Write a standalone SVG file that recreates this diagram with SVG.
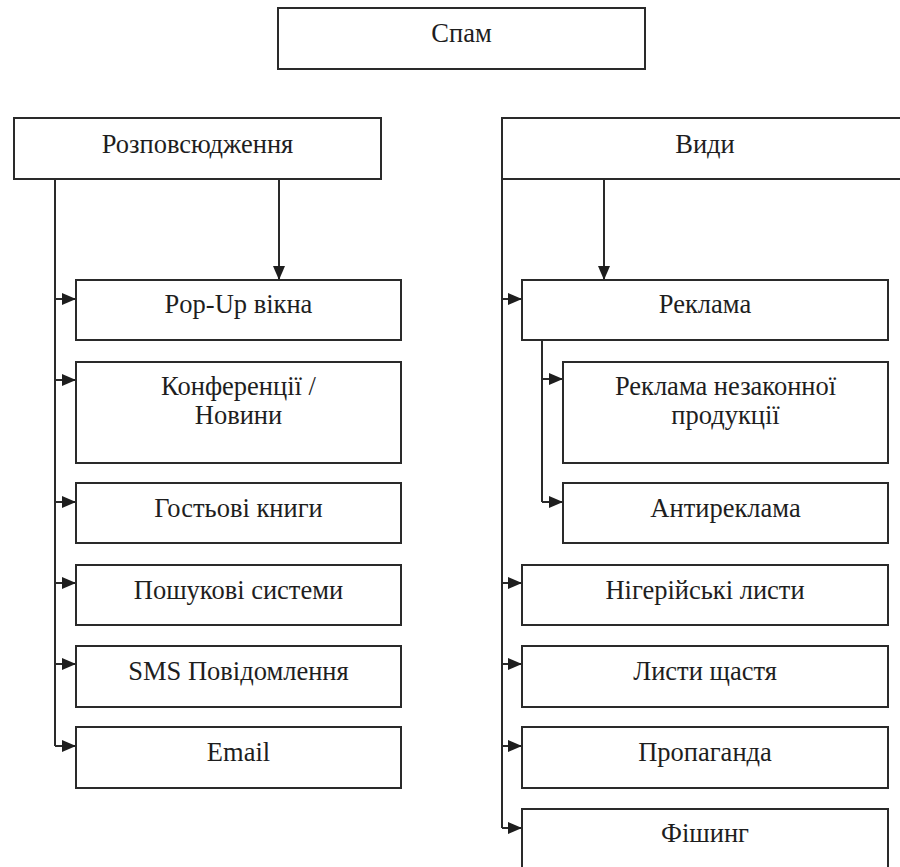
<svg xmlns="http://www.w3.org/2000/svg" width="900" height="867" viewBox="0 0 900 867">
<style>
.box{fill:#fff;stroke:#2a2a2a;stroke-width:2}
.lbl{font-family:"Liberation Serif","Times New Roman",serif;font-size:26.5px;fill:#1e1e1e;text-anchor:middle}
.ln{fill:none;stroke:#2a2a2a;stroke-width:2}
.ar{fill:none;stroke:#2a2a2a;stroke-width:2;marker-end:url(#ah)}
</style>
<defs>
<marker id="ah" markerUnits="userSpaceOnUse" markerWidth="14" markerHeight="12" refX="14" refY="6" orient="auto">
<path d="M0,0 L14,6 L0,12 Z" fill="#1e1e1e"/>
</marker>
</defs>
<rect width="900" height="867" fill="#fff"/>
<g id="connectors">
<path class="ln" d="M55,179 V746"/>
<path class="ln" d="M502,179 V828"/>
<path class="ln" d="M542,340 V502"/>
<path class="ar" d="M279,179 V280"/>
<path class="ar" d="M604,179 V280"/>
<path class="ar" d="M55,299 H76"/>
<path class="ar" d="M55,380 H76"/>
<path class="ar" d="M55,502 H76"/>
<path class="ar" d="M55,583 H76"/>
<path class="ar" d="M55,664 H76"/>
<path class="ar" d="M55,746 H76"/>
<path class="ar" d="M502,299 H522"/>
<path class="ar" d="M542,379 H563"/>
<path class="ar" d="M542,502 H563"/>
<path class="ar" d="M502,583 H522"/>
<path class="ar" d="M502,664 H522"/>
<path class="ar" d="M502,746 H522"/>
<path class="ar" d="M502,828 H522"/>
</g>
<g id="spam"><rect class="box" x="278" y="8" width="367" height="61"/><text class="lbl" x="461.5" y="42">Спам</text></g>
<g id="rozpovsyudzhennya"><rect class="box" x="14" y="118" width="367" height="61"/><text class="lbl" x="197.5" y="153">Розповсюдження</text></g>
<g id="vydy"><rect class="box" x="502" y="118" width="406" height="61"/><text class="lbl" x="705" y="153">Види</text></g>
<g id="popup"><rect class="box" x="76" y="280" width="325" height="60"/><text class="lbl" x="238.5" y="313">Pop-Up вікна</text></g>
<g id="konferentsii"><rect class="box" x="76" y="362" width="325" height="101"/><text class="lbl" x="238.5" y="395">Конференції /</text><text class="lbl" x="238.5" y="424">Новини</text></g>
<g id="gostovi"><rect class="box" x="76" y="483" width="325" height="60"/><text class="lbl" x="238.5" y="517">Гостьові книги</text></g>
<g id="poshukovi"><rect class="box" x="76" y="565" width="325" height="60"/><text class="lbl" x="238.5" y="599">Пошукові системи</text></g>
<g id="sms"><rect class="box" x="76" y="646" width="325" height="61"/><text class="lbl" x="238.5" y="680">SMS Повідомлення</text></g>
<g id="email"><rect class="box" x="76" y="727" width="325" height="61"/><text class="lbl" x="238.5" y="761">Email</text></g>
<g id="reklama"><rect class="box" x="522" y="280" width="366" height="60"/><text class="lbl" x="705" y="313">Реклама</text></g>
<g id="reklama-nezakonnoi"><rect class="box" x="563" y="362" width="325" height="101"/><text class="lbl" x="725.5" y="395">Реклама незаконної</text><text class="lbl" x="725.5" y="424">продукції</text></g>
<g id="antyreklama"><rect class="box" x="563" y="483" width="325" height="60"/><text class="lbl" x="725.5" y="517">Антиреклама</text></g>
<g id="nigeriiski"><rect class="box" x="522" y="565" width="366" height="60"/><text class="lbl" x="705" y="599">Нігерійські листи</text></g>
<g id="lysty-shchastia"><rect class="box" x="522" y="646" width="366" height="61"/><text class="lbl" x="705" y="680">Листи щастя</text></g>
<g id="propaganda"><rect class="box" x="522" y="727" width="366" height="61"/><text class="lbl" x="705" y="761">Пропаганда</text></g>
<g id="fishyng"><rect class="box" x="522" y="809" width="366" height="70"/><text class="lbl" x="705" y="842">Фішинг</text></g>
</svg>
